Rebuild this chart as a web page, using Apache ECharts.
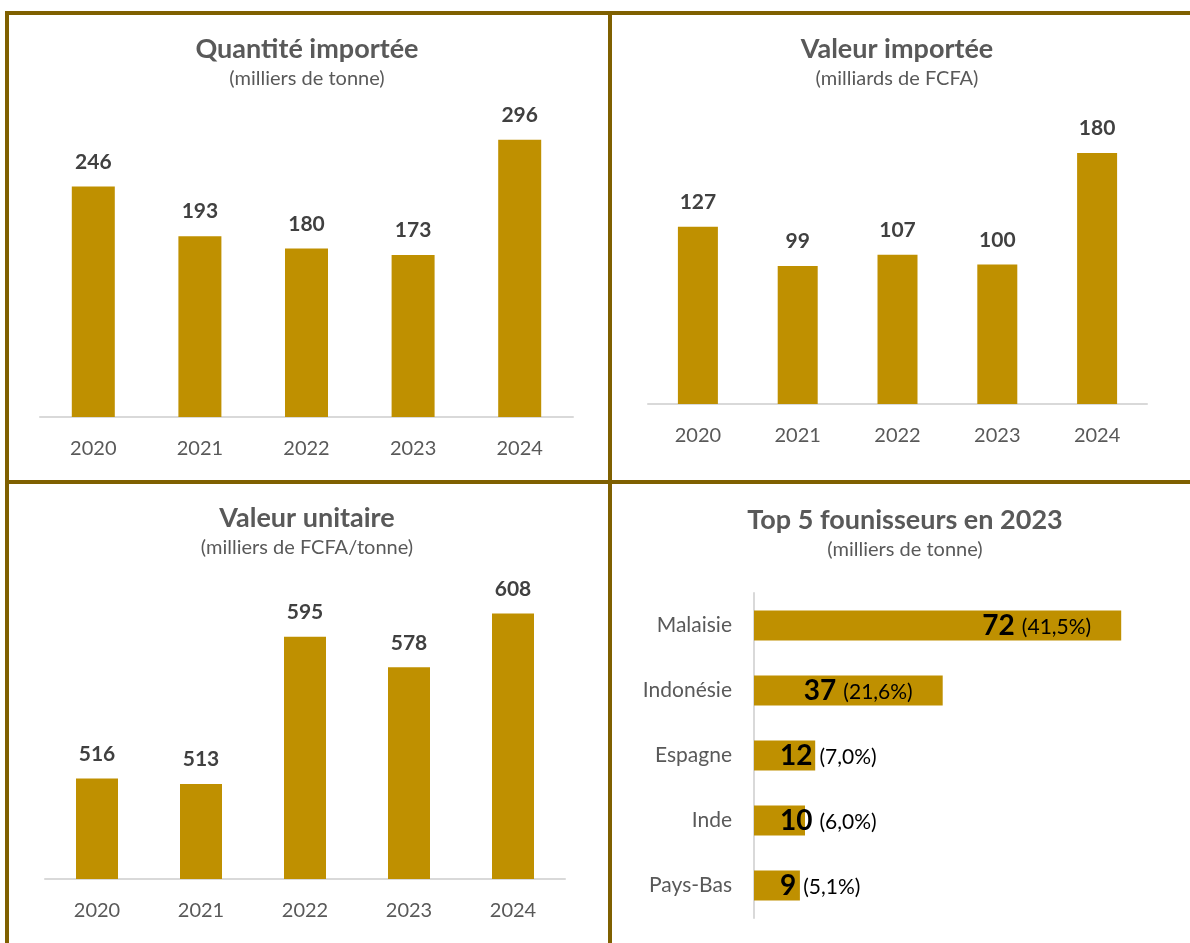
<!DOCTYPE html>
<html>
<head>
<meta charset="utf-8">
<script src="https://cdn.jsdelivr.net/npm/echarts@6/dist/echarts.min.js"></script>
<style>
  html, body { margin: 0; padding: 0; background: #ffffff; }
  #main { width: 1190px; height: 943px; }
</style>
</head>
<body>
<div id="main"></div>
<script>
// données
const annees = ['2020', '2021', '2022', '2023', '2024']
const quantite = [246, 193, 180, 173, 296]      // milliers de tonne
const valeur = [127, 99, 107, 100, 180]         // milliards de FCFA
const unitaire = [516, 513, 595, 578, 608]      // milliers de FCFA/tonne
const pays = ['Malaisie', 'Indonésie', 'Espagne', 'Inde', 'Pays-Bas']
const fournisseurs = [72, 37, 12, 10, 9]
const parts = ['41,5%', '21,6%', '7,0%', '6,0%', '5,1%']

const gold = '#BF9000'
const brun = '#7F6000'
const gris = '#595959'
const font = 'Lato, "Open Sans", sans-serif'

const chart = echarts.init(document.getElementById('main'))

function titre(text, sub, x, y) {
  return {
    text: text,
    subtext: sub,
    left: x,
    top: y,
    textAlign: 'center',
    padding: 0,
    itemGap: 6,
    textStyle: { fontFamily: font, fontSize: 27, fontWeight: 'bold', color: gris },
    subtextStyle: { fontFamily: font, fontSize: 20, color: gris },
  }
}

function axeAnnees(idx) {
  return {
    type: 'category',
    gridIndex: idx,
    data: annees,
    axisLine: { lineStyle: { color: '#D9D9D9', width: 2 } },
    axisTick: { show: false },
    axisLabel: { fontFamily: font, fontSize: 20, color: gris, margin: 22 },
  }
}

function barres(idx, data, largeur) {
  return {
    type: 'bar',
    xAxisIndex: idx,
    yAxisIndex: idx,
    data: data,
    barWidth: largeur,
    itemStyle: { color: gold },
    label: {
      show: true,
      position: 'top',
      distance: 14,
      fontFamily: font,
      fontSize: 21,
      fontWeight: 'bold',
      color: '#404040',
    },
  }
}

// bordures des cadres
const lignes = [
  [5, 13, 1190, 13],
  [7, 11, 7, 943],
  [610, 11, 610, 943],
  [5, 482, 1190, 482],
].map((l) => ({
  type: 'line',
  shape: { x1: l[0], y1: l[1], x2: l[2], y2: l[3] },
  style: { stroke: brun, lineWidth: 4 },
  silent: true,
}))

const option = {
  backgroundColor: '#ffffff',
  animation: false,
  title: [
    titre('Quantité importée', '(milliers de tonne)', 307, 36),
    titre('Valeur importée', '(milliards de FCFA)', 897, 36),
    titre('Valeur unitaire', '(milliers de FCFA/tonne)', 307, 505),
    titre('Top 5 founisseurs en 2023', '(milliers de tonne)', 905, 507),
  ],
  grid: [
    { left: 40, top: 136, width: 533, height: 281 },
    { left: 648, top: 125, width: 499, height: 279 },
    { left: 45, top: 592, width: 520, height: 287 },
    { left: 754, top: 593, width: 408, height: 325 },
  ],
  xAxis: [
    axeAnnees(0),
    axeAnnees(1),
    axeAnnees(2),
    { type: 'value', gridIndex: 3, min: 0, max: 80, show: false },
  ],
  yAxis: [
    { type: 'value', gridIndex: 0, min: 0, max: 300, show: false },
    { type: 'value', gridIndex: 1, min: 0, max: 200, show: false },
    { type: 'value', gridIndex: 2, min: 460, max: 620, show: false },
    {
      type: 'category',
      gridIndex: 3,
      data: pays,
      inverse: true,
      axisLine: { lineStyle: { color: '#D9D9D9', width: 2 } },
      axisTick: { show: false },
      axisLabel: { fontFamily: font, fontSize: 21, color: gris, margin: 22 },
    },
  ],
  series: [
    barres(0, quantite, 43),
    barres(1, valeur, 40),
    barres(2, unitaire, 42),
    {
      type: 'bar',
      xAxisIndex: 3,
      yAxisIndex: 3,
      barWidth: 30,
      itemStyle: { color: gold },
      data: fournisseurs.map((v) => ({
        value: v,
        label: {
          position: v > 20 ? 'insideRight' : 'insideLeft',
          distance: v > 20 ? 30 : 26,
        },
      })),
      label: {
        show: true,
        fontFamily: font,
        color: '#000000',
        formatter: (p) => '{n|' + p.value + '}{p|(' + parts[p.dataIndex] + ')}',
        rich: {
          n: { fontFamily: font, fontSize: 28, fontWeight: 'bold', color: '#000000' },
          p: { fontFamily: font, fontSize: 21, color: '#000000', padding: [4, 0, 0, 7] },
        },
      },
    },
  ],
  graphic: lignes,
}

chart.setOption(option)
</script>
</body>
</html>
